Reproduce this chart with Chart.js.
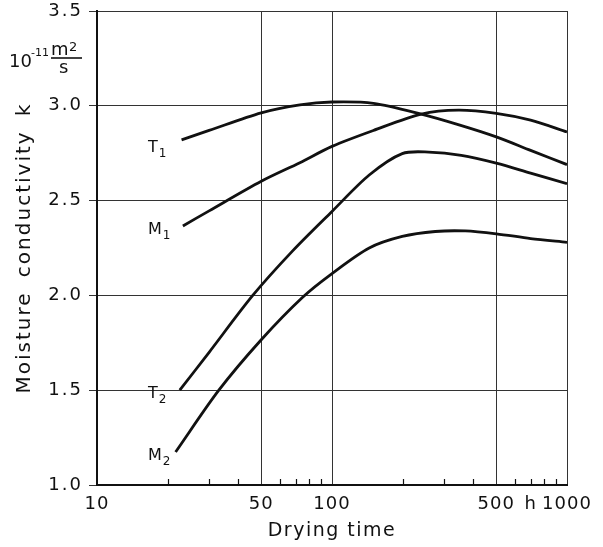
<!DOCTYPE html>
<html>
<head>
<meta charset="utf-8">
<script src="https://cdn.jsdelivr.net/npm/chart.js@4/dist/chart.umd.min.js"></script>
<style>
html,body{margin:0;padding:0;background:#fff;}
#wrap{width:603px;height:547px;}
</style>
</head>
<body>
<div id="wrap"><canvas id="c" width="603" height="547"></canvas></div>
<script>
// ---- data ----
const T1_X = [22.9, 30, 50, 73, 100, 150, 240, 350, 500, 700, 1000];
const T1_Y = [2.82, 2.87, 2.963, 3.005, 3.02, 3.013, 2.956, 2.898, 2.836, 2.765, 2.69];
const M1_X = [23.2, 30, 50, 73, 100, 150, 240, 345, 500, 700, 1000];
const M1_Y = [2.366, 2.446, 2.602, 2.70, 2.786, 2.87, 2.956, 2.977, 2.96, 2.924, 2.862];
const T2_X = [22.5, 30, 46, 68, 100, 144, 199, 258, 355, 500, 700, 1000];
const T2_Y = [1.50, 1.70, 2.0, 2.235, 2.443, 2.635, 2.748, 2.756, 2.739, 2.698, 2.645, 2.589];
const M2_X = [21.6, 33, 50, 75, 100, 144, 199, 275, 369, 500, 700, 1000];
const M2_Y = [1.174, 1.50, 1.766, 1.99, 2.115, 2.25, 2.311, 2.337, 2.34, 2.325, 2.30, 2.28];
const SERIES_NAMES = [["T","1"],["M","1"],["T","2"],["M","2"]];

const X_TICKS = [10,20,30,40,50,60,70,80,90,100,200,300,400,500,600,700,800,900,1000];
const X_LABELS = {10:"10", 50:"50", 100:"100", 500:"500", 700:"h", 1000:"1000"};
const X_GRID = [10, 50, 100, 500, 1000];
const Y_TICKS = [1.0, 1.5, 2.0, 2.5, 3.0, 3.5];
const X_TITLE = "Drying time";
const Y_TITLE = "Moisture conductivity k";

const FONT = "'DejaVu Sans', sans-serif";
const INK = "#111";

function pts(xs, ys){ return xs.map((x,i)=>({x:x, y:ys[i]})); }
const seriesData = [pts(T1_X,T1_Y), pts(M1_X,M1_Y), pts(T2_X,T2_Y), pts(M2_X,M2_Y)];

function spaced(scale, fnName, ls, ws){
  const orig = scale[fnName].bind(scale);
  scale[fnName] = function(){
    const ctx = scale.ctx;
    ctx.save();
    ctx.letterSpacing = ls;
    if (ws) ctx.wordSpacing = ws;
    orig.apply(null, arguments);
    ctx.restore();
  };
}

const spacing = {
  id: 'spacing',
  beforeDraw(chart){
    const sx = chart.scales.x, sy = chart.scales.y;
    if (!sx || !sy || sy._spaced) return;
    sy._spaced = true;
    spaced(sy, 'drawLabels', '2px');
    spaced(sx, 'drawLabels', '1px');
    spaced(sy, 'drawTitle', '2px', '6px');
    spaced(sx, 'drawTitle', '1.5px');
  }
};

const decor = {
  id: 'decor',
  afterDraw(chart){
    const ctx = chart.ctx;
    const xs = chart.scales.x, ys = chart.scales.y;
    const area = chart.chartArea;
    ctx.save();
    // inward minor ticks on x axis
    ctx.strokeStyle = INK; ctx.lineWidth = 1.2;
    X_TICKS.forEach(v=>{
      if (X_GRID.includes(v)) return;
      const px = Math.round(xs.getPixelForValue(v)) + 0.5;
      ctx.beginPath(); ctx.moveTo(px, area.bottom); ctx.lineTo(px, area.bottom - 6); ctx.stroke();
    });
    // series labels next to each curve's first point
    ctx.fillStyle = INK;
    ctx.textBaseline = 'alphabetic';
    ctx.textAlign = 'left';
    const dy = [12, 8, 8, 8];
    seriesData.forEach((d, i)=>{
      const py = ys.getPixelForValue(d[0].y) + dy[i];
      const lx = area.left + 51;
      const [main, sub] = SERIES_NAMES[i];
      ctx.font = "16px " + FONT;
      const w = ctx.measureText(main).width;
      ctx.fillText(main, lx, py);
      ctx.font = "12px " + FONT;
      ctx.fillText(sub, lx + w + 1, py + 5);
    });
    // unit: 10^-11 m^2/s
    ctx.font = "18px " + FONT;
    ctx.fillText("10", 9, 67);
    ctx.font = "11px " + FONT;
    ctx.fillText("-11", 31, 56);
    ctx.font = "18px " + FONT;
    ctx.fillText("m", 51, 55);
    ctx.font = "13px " + FONT;
    ctx.fillText("2", 69, 51);
    ctx.lineWidth = 1.6;
    ctx.beginPath(); ctx.moveTo(51, 58); ctx.lineTo(82, 58); ctx.stroke();
    ctx.font = "18px " + FONT;
    ctx.fillText("s", 59, 73);
    ctx.restore();
  }
};

const cfg = {
  type: 'line',
  data: {
    datasets: seriesData.map((d,i)=>({
      label: SERIES_NAMES[i].join(''),
      data: d,
      borderColor: INK,
      borderWidth: 2.8,
      pointRadius: 0,
      fill: false,
      tension: 0.3
    }))
  },
  options: {
    responsive: false,
    animation: false,
    devicePixelRatio: 1,
    layout: { padding: { top: 11, right: 36, left: 0, bottom: 0 } },
    plugins: { legend: { display: false }, tooltip: { enabled: false }, title: { display: false } },
    scales: {
      x: {
        type: 'logarithmic',
        min: 10, max: 1000,
        afterBuildTicks: (s)=>{ s.ticks = X_TICKS.map(v=>({value:v})); },
        afterFit: (s)=>{ s.height = 62; s.paddingLeft = 0; s.paddingRight = 0; },
        ticks: {
          autoSkip: false, maxRotation: 0, padding: 9,
          color: INK, font: { family: FONT, size: 18 },
          callback: (v)=> (X_LABELS[v] !== undefined ? X_LABELS[v] : '')
        },
        grid: {
          drawTicks: false,
          color: (c)=> (c.tick && X_GRID.includes(c.tick.value)) ? '#333' : 'rgba(0,0,0,0)',
          lineWidth: 1
        },
        border: { display: true, color: INK, width: 2 },
        title: { display: true, text: X_TITLE, color: INK, font: { family: FONT, size: 19 }, padding: { top: 0, bottom: 5 } }
      },
      y: {
        min: 1.0, max: 3.5,
        afterBuildTicks: (s)=>{ s.ticks = Y_TICKS.map(v=>({value:v})); },
        afterFit: (s)=>{ s.width = 97; s.paddingTop = 0; s.paddingBottom = 0; },
        ticks: {
          padding: 6, color: INK, font: { family: FONT, size: 18 },
          callback: (v)=> Number(v).toFixed(1)
        },
        grid: { color: '#333', lineWidth: 1, drawTicks: true, tickLength: 8, tickColor: '#333' },
        border: { display: true, color: INK, width: 2 },
        title: { display: true, text: Y_TITLE, color: INK, font: { family: FONT, size: 20 }, padding: { top: 13, bottom: 0 } }
      }
    }
  },
  plugins: [spacing, decor]
};
new Chart(document.getElementById('c'), cfg);
</script>
</body>
</html>
